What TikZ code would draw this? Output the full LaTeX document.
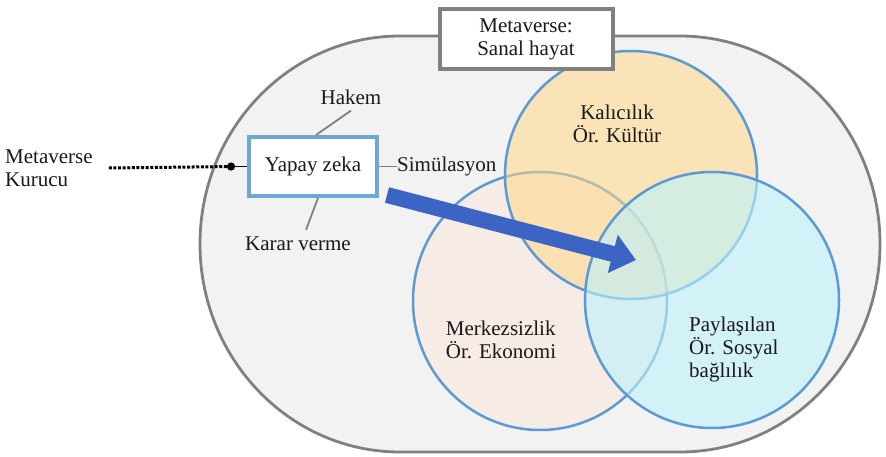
\documentclass[tikz,border=0pt]{standalone}
\usepackage{fontspec}
\setmainfont{Liberation Serif}
\usetikzlibrary{arrows.meta,positioning,shapes.geometric}
\definecolor{mvedge}{RGB}{128,128,128}
\definecolor{mvbg}{RGB}{242,242,242}
\definecolor{mvline}{RGB}{91,155,213}
\definecolor{mvbox}{RGB}{110,166,214}
\definecolor{mvorange}{RGB}{255,215,135}
\definecolor{mvpink}{RGB}{247,235,230}
\definecolor{mvcyan}{RGB}{189,242,252}
\definecolor{mvarrow}{RGB}{59,100,196}
\tikzset{
  lbl/.style={font=\fontsize{21}{23}\selectfont, inner sep=0pt, text=black!90},
  frame/.style={draw=mvedge, fill=mvbg, line width=2.8pt},
  topbox/.style={lbl, draw=mvedge, fill=white, line width=4pt, align=center,
    minimum width=173pt, minimum height=60pt},
  aibox/.style={lbl, draw=mvbox, fill=white, line width=4pt,
    minimum width=128pt, minimum height=59pt},
  venn/.style={ellipse, draw=mvline, line width=2.5pt, inner sep=0pt},
  lead/.style={draw=mvedge, line width=1.8pt},
  dotline/.style={draw=black, line width=3pt, dash pattern=on 3pt off 1.6pt},
  bigarr/.style={draw=mvarrow, line width=16pt, -{Triangle[length=24pt,width=38pt]}}
}
\begin{document}
\begin{tikzpicture}[x=1pt, y=-1pt]
  \useasboundingbox (0,0) rectangle (886,457);
  % outer frame
  \draw[frame] (400,36) -- (680,36)
    arc[start angle=-90, end angle=90, x radius=200, y radius=208] -- (400,452)
    arc[start angle=90, end angle=270, x radius=200, y radius=208] -- cycle;
  % venn
  \node[venn, fill=mvpink, minimum width=254pt, minimum height=258pt] (merkez) at (540,301) {};
  \node[venn, fill=mvorange, fill opacity=0.55, minimum width=252pt, minimum height=248pt] (kalici) at (631,175) {};
  \node[venn, fill=mvcyan, fill opacity=0.6, minimum width=254pt, minimum height=256pt] (paylas) at (712,300) {};
  \node[lbl, align=center] (kal) at (617,124) {Kalıcılık\\Ör. Kültür};
  \node[lbl, align=left] (merk) at (501,340) {Merkezsizlik\\Ör. Ekonomi};
  \node[lbl, align=left, anchor=west] (pay) at (689,349) {Paylaşılan\\Ör. Sosyal\\bağlılık};
  % boxes
  \node[topbox] (sanal) at (526,39) {Metaverse:\\Sanal hayat};
  \node[aibox] (yz) at (313,166.5) {Yapay zeka};
  \node[lbl] (hakem) at (351,97) {Hakem};
  \node[lbl] (karar) at (298,244) {Karar verme};
  \node[lbl, right=18pt of yz] (sim) {Simülasyon};
  \node[lbl, align=left, anchor=west] (kurucu) at (5,168) {Metaverse\\Kurucu};
  \coordinate[left=12pt of yz.west] (dot);
  \coordinate (arrs) at (387,195);
  \coordinate (arre) at (636,260);
  % connectors
  \draw[lead] ([xshift=3pt]yz.north) -- ([yshift=-6pt]hakem.south);
  \draw[lead] ([xshift=5pt]yz.south) -- ([xshift=8pt,yshift=7pt]karar.north);
  \draw[lead] (yz.east) -- (sim.west);
  \draw[dotline, -{Circle[length=8pt]}] ([xshift=16pt]kurucu.east) -- (dot);
  \draw[line width=1.5pt] (dot) -- (yz.west);
  \draw[bigarr] (arrs) -- (arre);
\end{tikzpicture}
\end{document}
